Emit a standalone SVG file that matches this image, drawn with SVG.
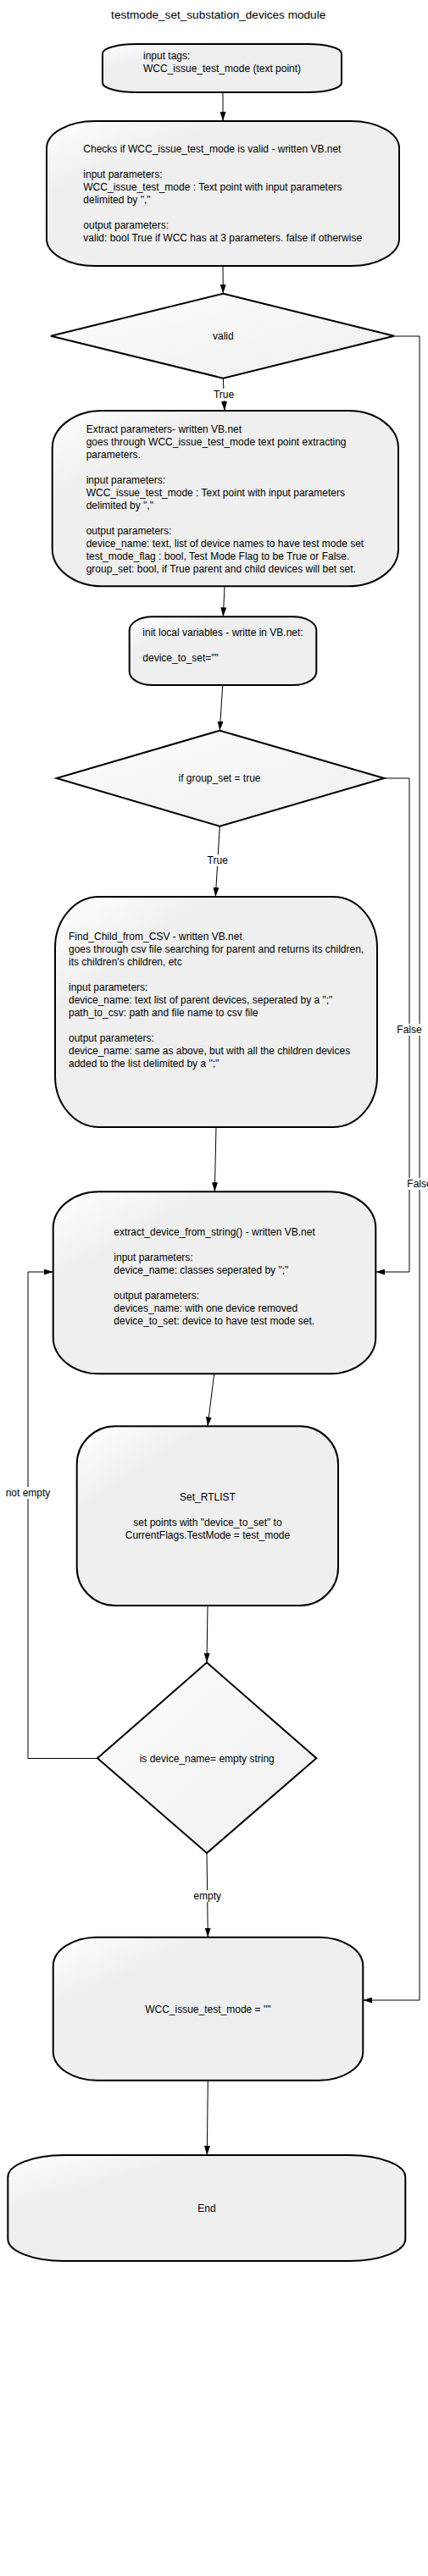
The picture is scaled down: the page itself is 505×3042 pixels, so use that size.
<svg xmlns="http://www.w3.org/2000/svg" width="505" height="3042" viewBox="0 0 505 3042">
<style>
.node{fill:url(#gn);stroke:#000;stroke-width:2}
.dia{fill:url(#gd);stroke:#000;stroke-width:2}
.t{font-family:"Liberation Sans",Arial,sans-serif;font-size:12px;fill:#000}
.m{text-anchor:middle}
.c{fill:none;stroke:#000;stroke-width:1;marker-end:url(#arr)}
.lb{fill:#fff}
</style>
<defs>
<linearGradient id="gn" x1="0" y1="0" x2="1" y2="1">
<stop offset="0" stop-color="#ffffff"/>
<stop offset="0.25" stop-color="#efefef"/>
<stop offset="1" stop-color="#efefef"/>
</linearGradient>
<linearGradient id="gd" x1="0" y1="0" x2="1" y2="1">
<stop offset="0.1" stop-color="#fcfcfc"/>
<stop offset="1" stop-color="#eeeeee"/>
</linearGradient>
<marker id="arr" viewBox="0 0 11 7" refX="11" refY="3.5" markerWidth="11" markerHeight="7" markerUnits="userSpaceOnUse" orient="auto">
<path d="M0,0 L11,3.5 L0,7 z" fill="#000"/>
</marker>
</defs>
<rect width="505" height="3042" fill="#fff"/>
<text class="t m" x="257.7" y="21.7" style="font-size:13.6px">testmode_set_substation_devices module</text>

<g id="connectors">
<path class="c" d="M263,109 L263,143"/>
<path class="c" d="M263,314 L263.3,346.7"/>
<path class="c" d="M263.3,446.7 L265,485"/>
<path class="c" d="M465,397 L495,397 L495,2362 L428.3,2362"/>
<path class="c" d="M265,692.3 L263.3,728.3"/>
<path class="c" d="M262.7,809 L259.3,862.7"/>
<path class="c" d="M259.3,975.7 L254.3,1059"/>
<path class="c" d="M453.3,919 L483,919 L483,1502 L443.3,1502"/>
<path class="c" d="M255,1331 L253.3,1407.3"/>
<path class="c" d="M252.7,1622.3 L245,1684.3"/>
<path class="c" d="M245,1896 L244,1963.3"/>
<path class="c" d="M115,2076.5 L33,2076.5 L33,1502 L62.7,1502"/>
<path class="c" d="M244,2188.3 L245.3,2287.7"/>
<path class="c" d="M245.3,2456.7 L244.3,2545"/>
<rect class="lb" x="251" y="459" width="26" height="14"/>
<text class="t m" x="264" y="470">True</text>
<rect class="lb" x="244" y="1009" width="26" height="14"/>
<text class="t m" x="256.7" y="1020">True</text>
<rect class="lb" x="468" y="1209" width="30" height="14"/>
<text class="t m" x="483" y="1220">False</text>
<rect class="lb" x="480" y="1391" width="30" height="14"/>
<text class="t m" x="495" y="1402">False</text>
<rect class="lb" x="6" y="1756" width="54" height="14"/>
<text class="t m" x="33" y="1767">not empty</text>
<rect class="lb" x="228" y="2232" width="34" height="14"/>
<text class="t m" x="244.7" y="2243.3">empty</text>
</g>

<g id="n1">
<rect class="node" x="121" y="52" width="282" height="57" rx="40" ry="11"/>
<text class="t" x="169" y="70">input tags:</text>
<text class="t" x="169" y="85">WCC_issue_test_mode (text point)</text>
</g>

<g id="n2">
<rect class="node" x="55" y="143" width="416" height="171" rx="57" ry="32"/>
<text class="t"><tspan x="98.3" y="180">Checks if WCC_issue_test_mode is valid - written VB.net</tspan><tspan x="98.3" y="210">input parameters:</tspan><tspan x="98.3" y="225">WCC_issue_test_mode : Text point with input parameters</tspan><tspan x="98.3" y="240">delimited by ","</tspan><tspan x="98.3" y="270">output parameters:</tspan><tspan x="98.3" y="285">valid: bool True if WCC has at 3 parameters. false if otherwise</tspan></text>
</g>

<g id="d1">
<polygon class="dia" points="263.3,346.7 465,396.7 263.3,446.7 60,396.7"/>
<text class="t m" x="263.3" y="401">valid</text>
</g>

<g id="n3">
<rect class="node" x="61.7" y="485" width="408.3" height="207.3" rx="59" ry="44"/>
<text class="t"><tspan x="101.7" y="511">Extract parameters- written VB.net</tspan><tspan x="101.7" y="526">goes through WCC_issue_test_mode text point extracting</tspan><tspan x="101.7" y="541">parameters.</tspan><tspan x="101.7" y="571">input parameters:</tspan><tspan x="101.7" y="586">WCC_issue_test_mode : Text point with input parameters</tspan><tspan x="101.7" y="601">delimited by ","</tspan><tspan x="101.7" y="631">output parameters:</tspan><tspan x="101.7" y="646">device_name: text, list of device names to have test mode set</tspan><tspan x="101.7" y="661">test_mode_flag : bool, Test Mode Flag to be True or False.</tspan><tspan x="101.7" y="676">group_set: bool, if True parent and child devices will bet set.</tspan></text>
</g>

<g id="n4">
<rect class="node" x="152.7" y="728.3" width="220.6" height="80.7" rx="27" ry="16"/>
<text class="t" x="168.3" y="751">init local variables - writte in VB.net:</text>
<text class="t" x="168.3" y="781">device_to_set=""</text>
</g>

<g id="d2">
<polygon class="dia" points="259.3,862.7 453.3,919 259.3,975.7 66.7,919"/>
<text class="t m" x="259" y="923.3">if group_set = true</text>
</g>

<g id="n5">
<rect class="node" x="65" y="1059" width="380" height="272" rx="52" ry="60"/>
<text class="t"><tspan x="81" y="1110">Find_Child_from_CSV - written VB.net</tspan><tspan x="81" y="1125">goes through csv file searching for parent and returns its children,</tspan><tspan x="81" y="1140">its children's children, etc</tspan><tspan x="81" y="1170">input parameters:</tspan><tspan x="81" y="1185">device_name: text list of parent devices, seperated by a ";"</tspan><tspan x="81" y="1200">path_to_csv: path and file name to csv file</tspan><tspan x="81" y="1230">output parameters:</tspan><tspan x="81" y="1245">device_name: same as above, but with all the children devices</tspan><tspan x="81" y="1260">added to the list delimited by a ";"</tspan></text>
</g>

<g id="n6">
<rect class="node" x="62.7" y="1407.3" width="380.6" height="215" rx="54" ry="43"/>
<text class="t"><tspan x="134.3" y="1458.6">extract_device_from_string() - written VB.net</tspan><tspan x="134.3" y="1488.6">input parameters:</tspan><tspan x="134.3" y="1503.6">device_name: classes seperated by ";"</tspan><tspan x="134.3" y="1533.6">output parameters:</tspan><tspan x="134.3" y="1548.6">devices_name: with one device removed</tspan><tspan x="134.3" y="1563.6">device_to_set: device to have test mode set.</tspan></text>
</g>

<g id="n7">
<rect class="node" x="90.7" y="1684.3" width="308.3" height="211.7" rx="45" ry="45"/>
<text class="t m" x="245" y="1772">Set_RTLIST</text>
<text class="t m" x="245" y="1802">set points with "device_to_set" to </text>
<text class="t m" x="245" y="1817">CurrentFlags.TestMode = test_mode</text>
</g>

<g id="d3">
<polygon class="dia" points="244,1963.3 373.3,2076.3 244,2188.3 115,2076.3"/>
<text class="t m" x="244.2" y="2081">is device_name= empty string</text>
</g>

<g id="n8">
<rect class="node" x="62.7" y="2287.7" width="365.6" height="169" rx="52" ry="34"/>
<text class="t m" x="245.3" y="2377">WCC_issue_test_mode = ""</text>
</g>

<g id="n9">
<rect class="node" x="9.3" y="2545" width="469" height="125" rx="66" ry="26"/>
<text class="t m" x="244" y="2612">End</text>
</g>
</svg>
